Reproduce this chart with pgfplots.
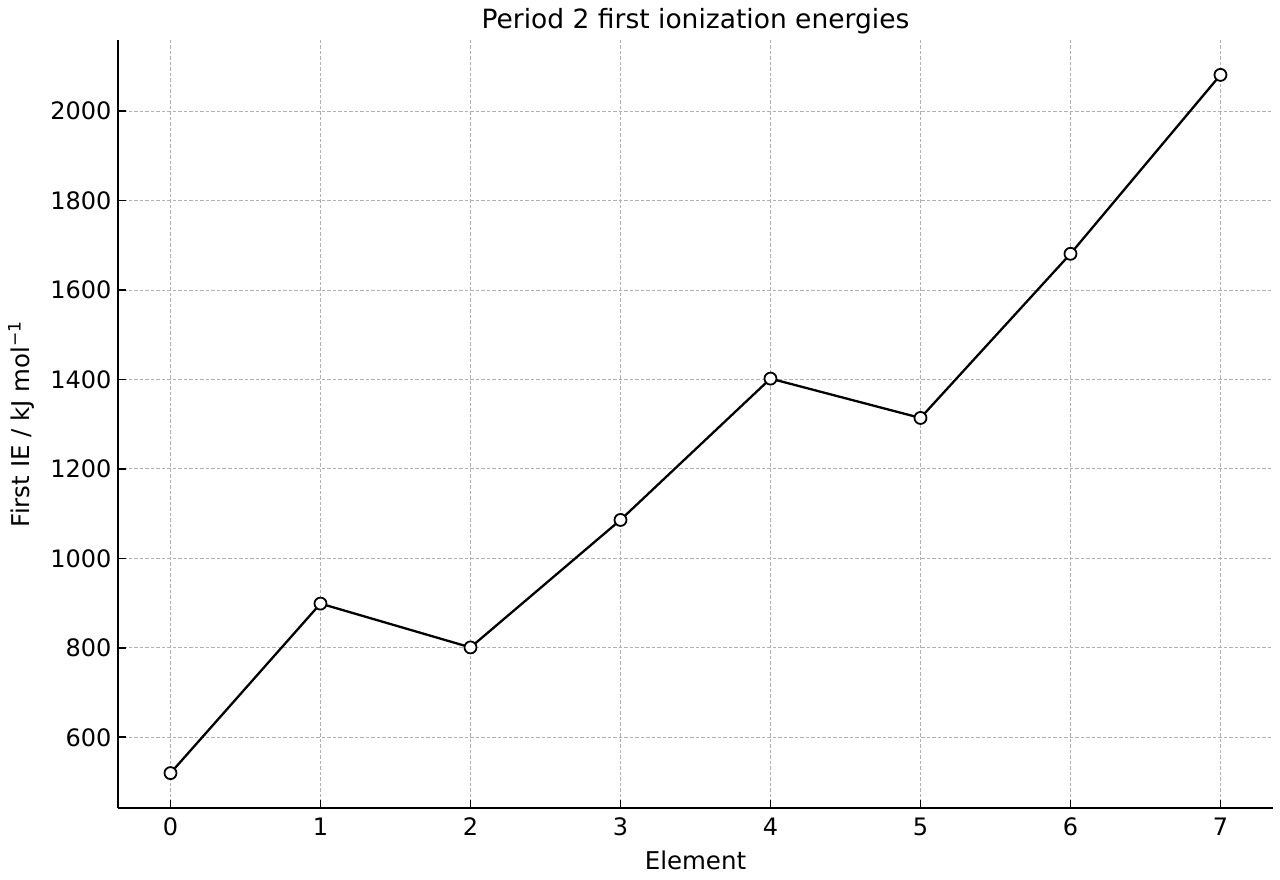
\documentclass[border=0pt]{standalone}
\usepackage{pgfplots}
\pgfplotsset{compat=1.18}
\usepackage{fontspec}
\setmainfont{DejaVu Sans}
\begin{document}
\begin{tikzpicture}
\begin{axis}[
  scale only axis,
  width=1155bp, height=768bp,
  xmin=-0.35, xmax=7.35,
  ymin=442, ymax=2159,
  axis x line*=bottom, axis y line*=left,
  axis line style={line width=2bp, black, -},
  xtick={0,1,2,3,4,5,6,7},
  ytick={600,800,1000,1200,1400,1600,1800,2000},
  tick align=inside,
  major tick length=8bp,
  tick style={line width=1.8bp, black},
  /pgf/number format/assume math mode=true,
  /pgf/number format/1000 sep={},
  ticklabel style={font=\fontsize{24bp}{28bp}\selectfont},
  xticklabel style={yshift=-6bp},
  yticklabel style={xshift=-3bp},
  grid=major,
  major grid style={line width=1bp, color={rgb,255:red,176;green,176;blue,176}, dash pattern=on 3.5bp off 2bp},
  title={Period 2 first ionization energies},
  title style={font=\fontsize{26.5bp}{30bp}\selectfont, at={(0.5,1)}, anchor=south, yshift=-4bp},
  xlabel={Element},
  ylabel={First IE / kJ mol\textsuperscript{−1}},
  label style={font=\fontsize{24.5bp}{28bp}\selectfont},
  xlabel style={yshift=-8bp},
  ylabel style={yshift=9bp},
]
\addplot[line width=2.3bp, black, mark=*, mark size=6bp,
  mark options={fill=white, draw=black, line width=1.8bp}]
  coordinates {(0,520) (1,899) (2,801) (3,1086) (4,1402) (5,1314) (6,1681) (7,2081)};
\end{axis}
\pgfresetboundingbox
\path (-118bp,-72bp) rectangle (1162bp,808bp);
\end{tikzpicture}
\end{document}
